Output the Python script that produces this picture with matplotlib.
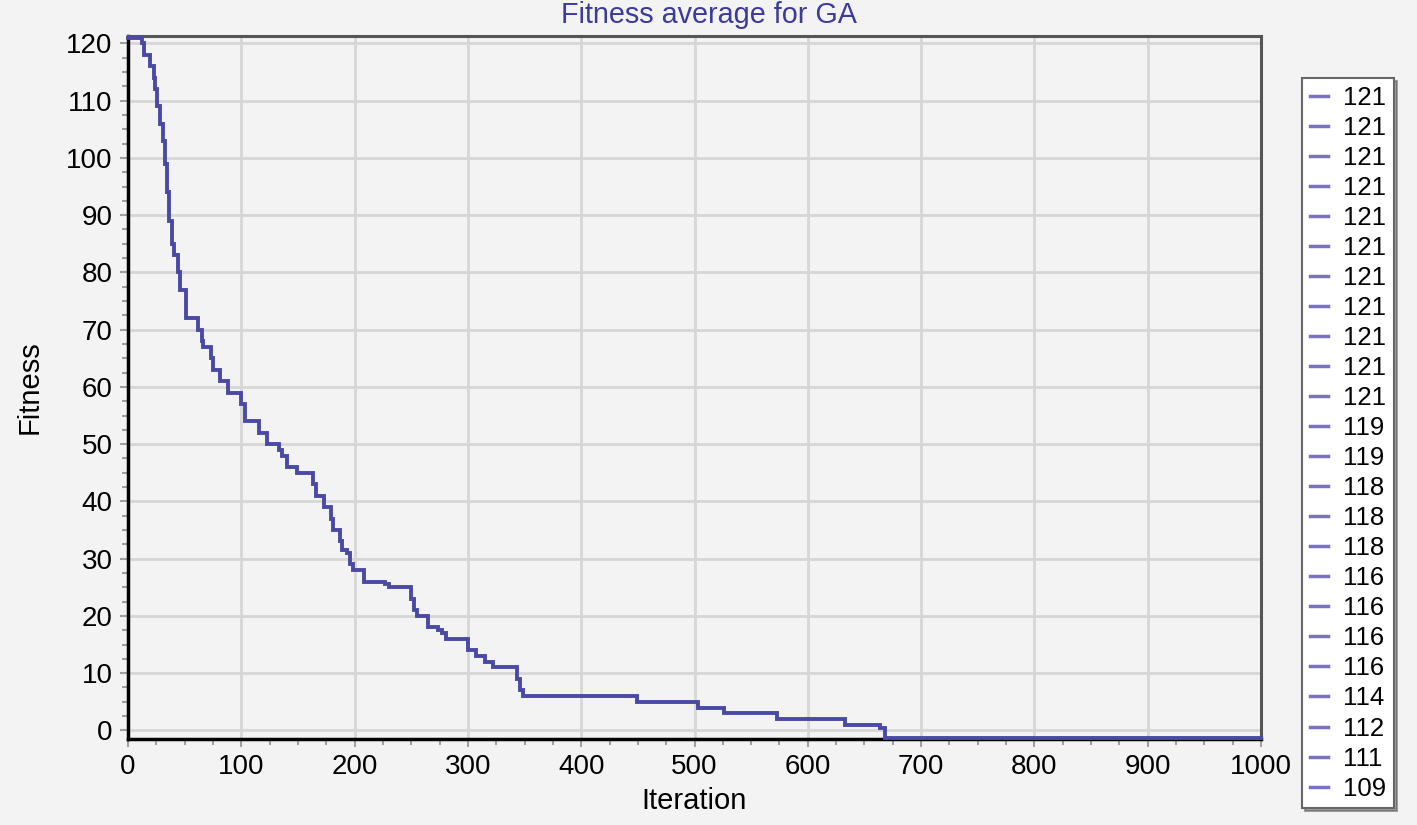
import numpy as np
import matplotlib
matplotlib.use("Agg")
import matplotlib.pyplot as plt
from matplotlib.lines import Line2D
from matplotlib.ticker import MultipleLocator

plt.rcParams['font.family'] = ['Liberation Sans', 'DejaVu Sans']

# step points of the fitness curve (value holds until next x)
iteration = [0, 12, 14, 19, 23, 24, 26, 28, 31, 33, 34, 36, 39, 41, 44, 46, 51,
             62, 65, 66, 73, 75, 81, 88, 100, 103, 116, 123, 133, 136, 140, 149,
             163, 166, 173, 179, 181, 187, 189, 193, 196, 199, 208, 227, 230,
             250, 252, 255, 265, 274, 277, 281, 300, 307, 315, 322, 343, 346,
             349, 449, 503, 526, 573, 633, 664, 668, 1000]
fitness = [121, 120, 118, 116, 114, 112, 109, 106, 103, 99, 94, 89, 85, 83, 80, 77, 72,
           70, 68, 67, 65, 63, 61, 59, 57, 54, 52, 50, 49, 48, 46, 45,
           43, 41, 39, 37, 35, 33, 31.5, 31, 29, 28, 26, 25.5, 25,
           23, 21, 20, 18, 17.5, 17, 16, 14, 13, 12, 11, 9, 7,
           6, 5, 4, 3, 2, 1, 0.5, -1.3, -1.3]

legend_labels = ["121"] * 11 + ["119", "119", "118", "118", "118", "116", "116",
                                "116", "116", "114", "112", "111", "109"]

bg = "#f3f3f3"
line_col = "#4a4aa6"

fig = plt.figure(figsize=(14.17, 8.25), dpi=100, facecolor=bg)
ax = fig.add_axes([128/1417, 86/825, (1261-128)/1417, (739-36)/825])
ax.set_facecolor(bg)

ax.plot(iteration, fitness, drawstyle="steps-post", color=line_col, lw=2.8,
        solid_joinstyle="miter", zorder=3, clip_on=False)

ax.set_xlim(0, 1000)
ax.set_ylim(-1.5, 121.3)
ax.xaxis.set_major_locator(MultipleLocator(100))
ax.xaxis.set_minor_locator(MultipleLocator(25))
ax.yaxis.set_major_locator(MultipleLocator(10))
ax.yaxis.set_minor_locator(MultipleLocator(2.5))
ax.grid(True, which="major", color="#d6d6d6", lw=2, zorder=0)

ax.tick_params(which="both", direction="out", colors="#a0a0a0", labelcolor="black",
               labelsize=20, width=1.5)
ax.tick_params(which="major", length=6, pad=5)
ax.tick_params(which="minor", length=4)

for side in ["left", "bottom"]:
    ax.spines[side].set_color("black")
    ax.spines[side].set_linewidth(2.5)
for side in ["top", "right"]:
    ax.spines[side].set_color("#555555")
    ax.spines[side].set_linewidth(2.2)

fig.text(0.5, 1 - 15/825, "Fitness average for GA", color="#3b3b99", fontsize=20.7,
         ha="center", va="center")
ax.set_xlabel("Iteration", fontsize=21, labelpad=5)
ax.set_ylabel("Fitness", fontsize=21, labelpad=16)

handles = [Line2D([], [], color="#7a72c0", lw=2.5) for _ in legend_labels]
leg = fig.legend(handles, legend_labels, loc="upper left",
                 bbox_to_anchor=(1302/1417, 1 - 78/825), fontsize=18.5,
                 labelspacing=0.235, handlelength=0.7, handletextpad=0.6,
                 borderpad=0.3, borderaxespad=0, frameon=True, fancybox=False,
                 shadow=True)
leg.get_frame().set_facecolor("white")
leg.get_frame().set_edgecolor("#666666")
leg.get_frame().set_linewidth(1.5)

fig.savefig("out.png", dpi=100, facecolor=bg)
